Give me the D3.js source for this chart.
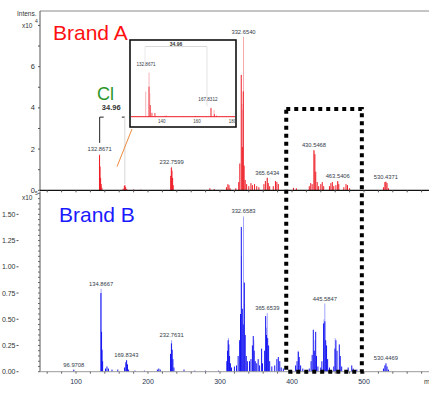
<!DOCTYPE html>
<html>
<head>
<meta charset="utf-8">
<script src="https://cdn.jsdelivr.net/npm/d3@7"></script>
<style>
  body { margin: 0; background: #fff; }
  svg { display: block; font-family: 'Liberation Sans', Arial, sans-serif; }
</style>
</head>
<body>
<svg width="429" height="398"></svg>
<script>
// ---------- data (m/z, intensity) ----------
// Brand A, intensity in x10^4
const centroidA = [
  [132.6, 1.7], [133.4, 1.15], [134.2, 0.6], [135, 0.3], [136, 0.12],
  [165.5, 0.08], [167.2, 0.22], [168, 0.25], [169, 0.15], [170.5, 0.06],
  [180, 0.04], [190, 0.03],
  [231.5, 0.7], [232.4, 1.1], [233.3, 0.95], [234.2, 0.6], [235, 0.25],
  [286, 0.1], [292, 0.06],
  [309, 0.15], [311, 0.3], [312.5, 0.25], [314, 0.1],
  [322, 0.1], [326, 0.4], [327.5, 1.3], [329.5, 5.6], [331, 2.1], [332.3, 4.8], [333.5, 1.2], [335, 0.5], [337, 0.3],
  [340, 0.2], [343, 0.35], [345, 0.25], [348, 0.3], [351, 0.2], [354, 0.15],
  [361, 0.3], [363, 0.45], [365.6, 0.6], [367, 0.35], [369, 0.2],
  [374, 0.2], [377, 0.45], [379, 0.4], [381, 0.3],
  [402, 0.12], [406, 0.1],
  [424, 0.2], [426, 0.35], [428, 0.3], [430.5, 1.95], [431.8, 1.75], [433, 0.9], [435, 0.4], [437, 0.2],
  [440, 0.3], [442, 0.4], [444, 0.2],
  [452, 0.2], [454, 0.35], [456, 0.4], [458, 0.2],
  [461, 0.25], [463.5, 0.45], [465, 0.3],
  [472, 0.15], [475, 0.3], [477, 0.25], [480, 0.1],
  [527, 0.15], [529, 0.4], [530.4, 0.42], [532, 0.35], [534, 0.1]
];
const profileA = [
  [132.9, 1.75], [232.8, 1.15], [330.5, 4.2], [332.65, 7.45], [331.6, 3.9],
  [365.7, 0.62], [430.6, 1.9], [463.6, 0.4], [530.5, 0.4]
];
const labelsA = [132.8671, 232.7599, 332.6540, 365.6434, 430.5468, 463.5406, 530.4371];

// Brand B, intensity in x10^5
const centroidB = [
  [96.97, 0.02],
  [134.6, 0.75], [135.5, 0.38], [136.2, 0.21], [137, 0.1], [141, 0.03], [143, 0.05], [145, 0.03], [150, 0.02], [158, 0.02],
  [167.5, 0.04], [169.2, 0.09], [170.3, 0.11], [171.5, 0.07], [173, 0.02],
  [182, 0.01], [195, 0.01], [213, 0.02], [215, 0.03], [217, 0.02],
  [231.3, 0.17], [232.5, 0.27], [233.6, 0.21], [234.6, 0.12], [236, 0.04],
  [250, 0.02], [265, 0.01], [280, 0.01], [298, 0.01],
  [309.5, 0.1], [310.5, 0.2], [311.3, 0.3], [312.3, 0.26], [313.3, 0.15], [314.5, 0.08], [316, 0.04],
  [320, 0.05], [323, 0.06], [325.2, 0.15], [327.3, 0.3], [328.5, 0.55], [329.6, 1.38], [331, 0.6], [332.3, 0.45],
  [333.8, 0.85], [335, 0.35], [336.5, 0.15], [338, 0.1],
  [341, 0.1], [343, 0.12], [345, 0.25], [346.2, 0.34], [347.5, 0.2], [349, 0.1], [351, 0.08], [353, 0.12],
  [355, 0.06], [357.8, 0.22], [359, 0.08],
  [362, 0.2], [363.4, 0.53], [364.5, 0.35], [366.2, 0.32], [367.5, 0.25], [369, 0.1],
  [372, 0.05], [376, 0.06], [379, 0.12], [381, 0.14], [383, 0.1], [385, 0.04], [388, 0.03],
  [405, 0.06], [407, 0.1], [408.8, 0.19], [410, 0.14], [412, 0.06], [415, 0.03],
  [424, 0.03], [426.5, 0.1], [428, 0.16], [429.6, 0.4], [431, 0.2], [432.9, 0.38], [434, 0.15], [436, 0.05],
  [440, 0.04], [441.5, 0.1], [443.9, 0.46], [445.6, 0.48], [446.8, 0.3], [448, 0.25], [449.5, 0.12], [452, 0.04],
  [458, 0.05], [459.7, 0.22], [461, 0.3], [462.5, 0.2], [465.7, 0.26], [467, 0.15], [469, 0.05],
  [478, 0.04], [483, 0.06], [485, 0.03], [490, 0.02],
  [527, 0.03], [529, 0.06], [530.5, 0.08], [532, 0.05], [534, 0.02]
];
const profileB = [
  [134.9, 0.79], [232.8, 0.3], [311.8, 0.32], [329.8, 1.1], [332.66, 1.48], [333.5, 0.65], [347, 0.3],
  [364.6, 0.42], [365.65, 0.56], [408.5, 0.2], [432, 0.3], [444.5, 0.5], [445.58, 0.65], [460, 0.32]
];
const labelsB = [96.9708, 134.8667, 169.8343, 232.7631, 332.6583, 365.6539, 445.5847, 530.4469];

// inset: zoom on the Cl isotope pair of Brand A
const insetCentroid = [
  [132.87, 1.16], [133.6, 0.45], [134.5, 0.15], [136.2, 0.14], [141.5, 0.03], [142.5, 0.04],
  [152, 0.02], [159, 0.03], [160.5, 0.02], [167.83, 0.33], [169.8, 0.1], [171, 0.04]
];
const insetProfile = [[131.0, 0.97], [132.9, 1.7], [133.3, 0.9], [167.9, 0.35], [169.6, 0.26]];
const clPair = [132.8671, 167.8312];
const insetTicks = [140, 160, 180];

const ticksA = [0, 2, 4, 6];
const ticksB = [0, 0.25, 0.5, 0.75, 1.0, 1.25, 1.5];
const ticksX = [100, 200, 300, 400, 500];
const highlight = [392, 497]; // m/z window of the dotted box
const highlightTop = 3.95;     // in Brand A units

// ---------- scales ----------
const svg = d3.select('svg');
const x = d3.scaleLinear().domain([50, 590]).range([40, 428.8]);
const yA = d3.scaleLinear().domain([0, 8.7]).range([190.3, 11]);
const yB = d3.scaleLinear().domain([0, 1.718]).range([371.7, 191.5]);
const fmt4 = d3.format('.4f');

const labelCol = '#333a48';

function drawSticks(g, data, y, color, width) {
  g.append('g').selectAll('line').data(data).join('line')
    .attr('x1', d => x(d[0])).attr('x2', d => x(d[0]))
    .attr('y1', y(0)).attr('y2', d => y(d[1]))
    .attr('stroke', color).attr('stroke-width', width);
}

function peakTop(mz, sets) {
  let m = 0;
  sets.forEach(s => s.forEach(d => { if (Math.abs(d[0] - mz) < 1.3) m = Math.max(m, d[1]); }));
  return m;
}

function drawLabels(g, labels, y, sets) {
  g.append('g').selectAll('text').data(labels).join('text')
    .attr('x', d => x(d)).attr('y', d => y(peakTop(d, sets)) - 3)
    .attr('text-anchor', 'middle')
    .attr('font-size', 5.8).attr('fill', labelCol)
    .text(d => fmt4(d));
}

// ---------- panel A ----------
const gA = svg.append('g');
// frame
gA.append('line').attr('x1', 40).attr('x2', 429).attr('y1', yA.range()[1]).attr('y2', yA.range()[1])
  .attr('stroke', '#8a8a8a').attr('stroke-width', 1);
drawSticks(gA, profileA, yA, '#f7a9ae', 1);
drawSticks(gA, centroidA, yA, '#ee1c25', 1);

// y axis A
gA.append('line').attr('x1', 40).attr('x2', 40).attr('y1', yA.range()[1]).attr('y2', yA(0))
  .attr('stroke', '#555');
gA.append('g').selectAll('line').data(d3.range(0, 9, 1)).join('line')
  .attr('x1', 38).attr('x2', 40).attr('y1', d => yA(d)).attr('y2', d => yA(d)).attr('stroke', '#555');
gA.append('g').selectAll('text').data(ticksA).join('text')
  .attr('x', 35).attr('y', d => yA(d) + 2.5).attr('text-anchor', 'end')
  .attr('font-size', 7.5).attr('fill', '#333').text(d => d);
gA.append('text').attr('x', 17).attr('y', 16).attr('font-size', 6.5).attr('fill', '#333').text('Intens.');
gA.append('text').attr('x', 22).attr('y', 28).attr('font-size', 6.5).attr('fill', '#333').text('x10');
gA.append('text').attr('x', 35).attr('y', 23).attr('font-size', 5).attr('fill', '#333').text('4');

// baseline A with minor ticks
gA.append('line').attr('x1', 40).attr('x2', 429).attr('y1', yA(0)).attr('y2', yA(0))
  .attr('stroke', '#111').attr('stroke-width', 1.3);
gA.append('g').selectAll('line').data(d3.range(60, 590, 20)).join('line')
  .attr('x1', d => x(d)).attr('x2', d => x(d)).attr('y1', yA(0)).attr('y2', yA(0) + 2)
  .attr('stroke', '#555');

drawLabels(gA, labelsA, yA, [centroidA, profileA]);

gA.append('text').attr('x', 53).attr('y', 39.5).attr('font-size', 21).attr('fill', '#ff1010').text('Brand A');

// Cl isotope bracket in the main spectrum
const brY = yA(3.55);
gA.append('line').attr('x1', x(clPair[0])).attr('x2', x(clPair[0])).attr('y1', brY).attr('y2', yA(2.3))
  .attr('stroke', '#222').attr('stroke-width', 1);
gA.append('line').attr('x1', x(clPair[0])).attr('x2', x(clPair[0]) + 4).attr('y1', brY).attr('y2', brY)
  .attr('stroke', '#222').attr('stroke-width', 1);
gA.append('line').attr('x1', x(clPair[1]) - 3).attr('x2', x(clPair[1])).attr('y1', brY).attr('y2', brY)
  .attr('stroke', '#222').attr('stroke-width', 1);
gA.append('line').attr('x1', x(clPair[1])).attr('x2', x(clPair[1])).attr('y1', brY).attr('y2', yA(0.3))
  .attr('stroke', '#d8d8d8').attr('stroke-width', 1);
gA.append('text').attr('x', (x(clPair[0]) + x(clPair[1])) / 2 - 1).attr('y', brY - 7)
  .attr('text-anchor', 'middle').attr('font-size', 7.5).attr('font-weight', 'bold').attr('fill', '#333')
  .text(d3.format('.2f')(clPair[1] - clPair[0]));
gA.append('text').attr('x', 97).attr('y', 100).attr('font-size', 18).attr('fill', '#2a962a').text('Cl');

// ---------- inset ----------
const ins = { x0: 130, y0: 40, x1: 236, y1: 127 };
const xI = d3.scaleLinear().domain([122.7, 181.4]).range([131, 235]);
const yI = d3.scaleLinear().domain([0, 1.7]).range([116.7, 72.7]);
gA.append('line').attr('x1', x(157)).attr('y1', yA(1.15)).attr('x2', ins.x0 + 2).attr('y2', ins.y1 + 2)
  .attr('stroke', '#f08a3c').attr('stroke-width', 1);
const gI = gA.append('g');
gI.append('rect').attr('x', ins.x0).attr('y', ins.y0).attr('width', ins.x1 - ins.x0).attr('height', ins.y1 - ins.y0)
  .attr('fill', '#fff').attr('stroke', '#111').attr('stroke-width', 1.6);
gI.append('g').selectAll('line').data(insetProfile).join('line')
  .attr('x1', d => xI(d[0])).attr('x2', d => xI(d[0])).attr('y1', yI(0)).attr('y2', d => yI(d[1]))
  .attr('stroke', '#f7b4b8').attr('stroke-width', 1);
gI.append('g').selectAll('line').data(insetCentroid).join('line')
  .attr('x1', d => xI(d[0])).attr('x2', d => xI(d[0])).attr('y1', yI(0)).attr('y2', d => yI(d[1]))
  .attr('stroke', '#f0464e').attr('stroke-width', 1);
gI.append('line').attr('x1', ins.x0 + 1).attr('x2', ins.x1 - 1).attr('y1', yI(0)).attr('y2', yI(0))
  .attr('stroke', '#ee1c25').attr('stroke-width', 1);
gI.append('g').selectAll('text').data(insetTicks).join('text')
  .attr('x', d => xI(d)).attr('y', yI(0) + 6).attr('text-anchor', 'middle')
  .attr('font-size', 4.5).attr('fill', '#444').text(d => d);
// bracket in inset
const ibY = 46.5;
gI.append('line').attr('x1', xI(clPair[0]) - 4).attr('x2', xI(clPair[1]) - 4).attr('y1', ibY).attr('y2', ibY)
  .attr('stroke', '#cfcfcf').attr('stroke-width', 0.8);
gI.append('line').attr('x1', xI(clPair[1]) - 4).attr('x2', xI(clPair[1]) - 4).attr('y1', ibY).attr('y2', yI(0.4))
  .attr('stroke', '#dcdcdc').attr('stroke-width', 0.8);
gI.append('line').attr('x1', xI(clPair[0]) - 4).attr('x2', xI(clPair[0]) - 4).attr('y1', ibY).attr('y2', yI(1.95))
  .attr('stroke', '#e4e4e4').attr('stroke-width', 0.8);
gI.append('text').attr('x', 176).attr('y', 45.5).attr('text-anchor', 'middle')
  .attr('font-size', 5).attr('font-weight', 'bold').attr('fill', '#333')
  .text(d3.format('.2f')(clPair[1] - clPair[0]));
gI.append('g').selectAll('text').data(clPair).join('text')
  .attr('x', d => xI(d) - 3).attr('y', d => yI(peakTop(d, [insetCentroid, insetProfile])) - 7)
  .attr('text-anchor', 'middle').attr('font-size', 4.6).attr('fill', labelCol).text(d => fmt4(d));

// ---------- panel B ----------
const gB = svg.append('g');
drawSticks(gB, profileB, yB, '#a4a4ff', 1);
drawSticks(gB, centroidB, yB, '#1414f0', 1);

gB.append('line').attr('x1', 40).attr('x2', 40).attr('y1', yB.range()[1]).attr('y2', yB(0))
  .attr('stroke', '#555');
gB.append('g').selectAll('line').data(d3.range(0, 1.7001, 0.05)).join('line')
  .attr('x1', 38).attr('x2', 40).attr('y1', d => yB(d)).attr('y2', d => yB(d)).attr('stroke', '#666');
gB.append('g').selectAll('text').data(ticksB).join('text')
  .attr('x', 15.5).attr('y', d => yB(d) + 2.5).attr('text-anchor', 'end')
  .attr('font-size', 7).attr('fill', '#333').text(d => d3.format('.2f')(d));
gB.append('g').selectAll('line').data(ticksB).join('line')
  .attr('x1', 16.5).attr('x2', 18.5).attr('y1', d => yB(d)).attr('y2', d => yB(d)).attr('stroke', '#555');
gB.append('text').attr('x', 22).attr('y', 200).attr('font-size', 6.5).attr('fill', '#333').text('x10');
gB.append('text').attr('x', 35).attr('y', 195).attr('font-size', 5).attr('fill', '#333').text('5');

gB.append('line').attr('x1', 40).attr('x2', 429).attr('y1', yB(0)).attr('y2', yB(0))
  .attr('stroke', '#9a9a9a').attr('stroke-width', 1);
gB.append('g').selectAll('line').data(d3.range(60, 590, 20)).join('line')
  .attr('x1', d => x(d)).attr('x2', d => x(d)).attr('y1', yB(0)).attr('y2', yB(0) + 2)
  .attr('stroke', '#666');
gB.append('g').selectAll('text').data(ticksX).join('text')
  .attr('x', d => x(d)).attr('y', yB(0) + 12).attr('text-anchor', 'middle')
  .attr('font-size', 7).attr('fill', '#2a3550').text(d => d);
gB.append('text').attr('x', 424).attr('y', yB(0) + 12).attr('font-size', 7).attr('fill', '#333').text('m/z');

drawLabels(gB, labelsB, yB, [centroidB, profileB]);

gB.append('text').attr('x', 59).attr('y', 221.5).attr('font-size', 21).attr('fill', '#1a1aff').text('Brand B');

// ---------- dotted highlight box ----------
svg.append('rect')
  .attr('x', x(highlight[0])).attr('y', yA(highlightTop))
  .attr('width', x(highlight[1]) - x(highlight[0]))
  .attr('height', yB(0) - yA(highlightTop))
  .attr('fill', 'none').attr('stroke', '#000').attr('stroke-width', 4)
  .attr('stroke-dasharray', '4 4');
</script>
</body>
</html>
